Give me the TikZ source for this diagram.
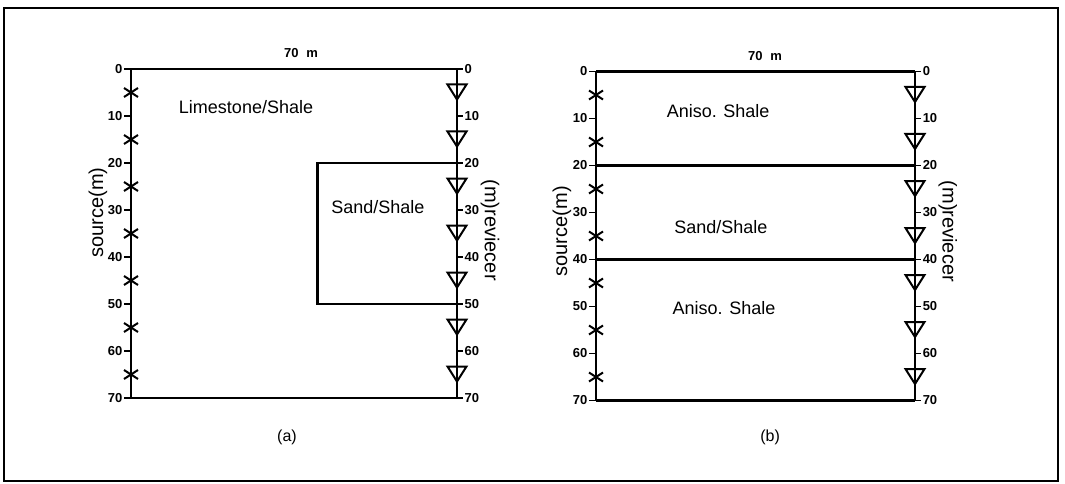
\documentclass[tikz,border=0pt]{standalone}
\usepackage{fontspec}
\setmainfont{Liberation Sans}
\tikzset{
  wellline/.style={line width=2.4pt},
  layerline/.style={line width=2.8pt},
  ticklabel/.style={font=\fontsize{13}{13}\selectfont\bfseries, inner sep=1pt},
  rocklabel/.style={font=\fontsize{18}{18}\selectfont},
  axislabel/.style={font=\fontsize{20}{20}\selectfont},
  caplabel/.style={font=\fontsize{16}{16}\selectfont},
  marker/.style={line width=2pt},
}
\begin{document}
\begin{tikzpicture}[x=1pt, y=-1pt]
  \useasboundingbox (0,0) rectangle (1065,484);
  % rahmen
  \draw[line width=1.4pt] (4,8) rectangle (1058,481);
  % (a) block model
  \begin{scope}[shift={(131,69)}, x=4.657pt, y=-4.7pt]
    \draw[layerline] (0,0) -- (70,0) (0,70) -- (70,70);
    \draw[wellline] (0,0) -- (0,70) (70,0) -- (70,70);
    \draw[layerline] (70,20) -- (40,20) -- (40,50) -- (70,50);
    \node[ticklabel] (widtha) at (36.5,-3.3) {70\hspace{0.6em}m};
    \foreach \t in {0,10,...,70}{
      \draw[line width=1.5pt] (0,\t) -- ++(-7pt,0) node[ticklabel, left] {\t};
      \draw[line width=1.5pt] (70,\t) -- ++(6pt,0) node[ticklabel, right] {\t};
    }
    \foreach \d in {5,15,...,65}{
      \draw[marker] (0,\d) ++(-7pt,4.5pt) -- ++(14pt,-9pt) (0,\d) ++(-7pt,-4.5pt) -- ++(14pt,9pt);
      \draw[marker] (70,\d) ++(-9.5pt,8pt) -- ++(19pt,0) -- ++(-9.5pt,-15pt) -- cycle;
    }
    \node[rocklabel] (limea) at (24.7,8.1) {Limestone/Shale};
    \node[rocklabel] (sanda) at (53,29.4) {Sand/Shale};
    \node[axislabel, rotate=90] (srca) at (-7.1,30.5) {source(m)};
    \node[axislabel, rotate=-90] (rcva) at (77.1,34.3) {(m)reviecer};
    \node[caplabel] (capa) at (33.5,78.3) {(a)};
  \end{scope}
  % (b) layered model
  \begin{scope}[shift={(596,71.5)}, x=4.557pt, y=-4.7pt]
    \draw[layerline] (0,0) -- (70,0) (0,70) -- (70,70);
    \draw[wellline] (0,0) -- (0,70) (70,0) -- (70,70);
    \draw[layerline] (0,20) -- (70,20) (0,40) -- (70,40);
    \node[ticklabel] (widthb) at (37.1,-3.3) {70\hspace{0.6em}m};
    \foreach \t in {0,10,...,70}{
      \draw[line width=1.5pt] (0,\t) -- ++(-7pt,0) node[ticklabel, left] {\t};
      \draw[line width=1.5pt] (70,\t) -- ++(6pt,0) node[ticklabel, right] {\t};
    }
    \foreach \d in {5,15,...,65}{
      \draw[marker] (0,\d) ++(-7pt,4.5pt) -- ++(14pt,-9pt) (0,\d) ++(-7pt,-4.5pt) -- ++(14pt,9pt);
      \draw[marker] (70,\d) ++(-9.5pt,8pt) -- ++(19pt,0) -- ++(-9.5pt,-15pt) -- cycle;
    }
    \node[rocklabel] (anisob) at (26.8,8.4) {Aniso. Shale};
    \node[rocklabel] (sandb) at (27.4,33.1) {Sand/Shale};
    \node[rocklabel] (anisoc) at (28.1,50.3) {Aniso. Shale};
    \node[axislabel, rotate=90] (srcb) at (-7.5,34) {source(m)};
    \node[axislabel, rotate=-90] (rcvb) at (77.2,34) {(m)reviecer};
    \node[caplabel] (capb) at (38.2,77.8) {(b)};
  \end{scope}
\end{tikzpicture}
\end{document}
